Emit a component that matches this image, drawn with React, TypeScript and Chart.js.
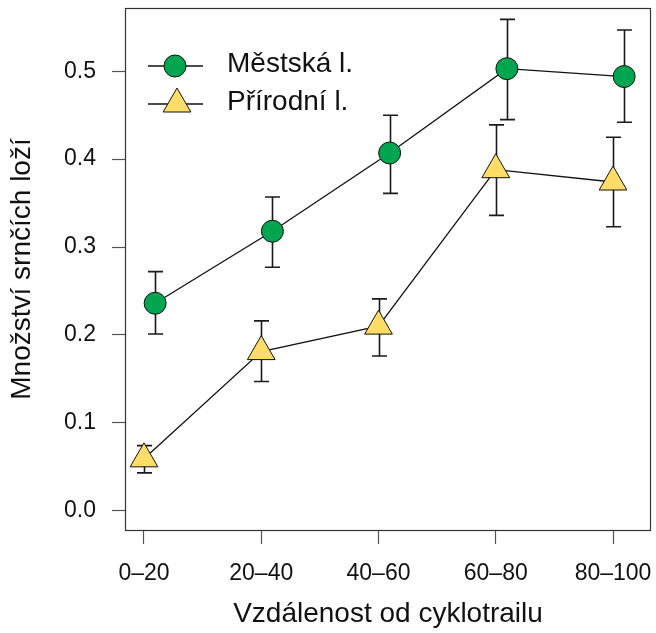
import React, { useEffect, useRef } from 'react';
import { Chart, registerables } from 'chart.js';

Chart.register(...registerables);

const categories = ['0–20', '20–40', '40–60', '60–80', '80–100'];
const yTickValues = [0, 0.1, 0.2, 0.3, 0.4, 0.5];

const seriesNames = ['Městská l.', 'Přírodní l.'];

const mestska = [0.236, 0.318, 0.407, 0.503, 0.494];
const mestskaLow = [0.201, 0.277, 0.361, 0.445, 0.442];
const mestskaHigh = [0.272, 0.357, 0.45, 0.559, 0.547];

const prirodni = [0.059, 0.181, 0.21, 0.388, 0.374];
const prirodniLow = [0.043, 0.147, 0.176, 0.336, 0.323];
const prirodniHigh = [0.074, 0.216, 0.241, 0.439, 0.425];

const FONT = "'Liberation Sans', Arial, Helvetica, sans-serif";
const GREEN = '#00A64F';
const YELLOW = '#FFDD66';
const TEXT = '#111111';

export default function App() {
  const ref = useRef<HTMLCanvasElement | null>(null);

  useEffect(() => {
    document.body.style.margin = '0';
    const canvas = ref.current;
    if (!canvas) return;

    const errorBars = {
      id: 'errorBars',
      beforeDatasetsDraw(chart: any) {
        const { ctx } = chart;
        const xs = chart.scales.x;
        const ys = chart.scales.y;
        ctx.save();
        ctx.strokeStyle = '#1a1a1a';
        ctx.lineWidth = 1.6;
        chart.data.datasets.forEach((ds: any) => {
          ds.data.forEach((p: any, i: number) => {
            const x = Math.round(xs.getPixelForValue(p.x)) + 0.5;
            const y1 = ys.getPixelForValue(ds.errLow[i]);
            const y2 = ys.getPixelForValue(ds.errHigh[i]);
            ctx.beginPath();
            ctx.moveTo(x, y1);
            ctx.lineTo(x, y2);
            ctx.moveTo(x - 7.5, y1);
            ctx.lineTo(x + 7.5, y1);
            ctx.moveTo(x - 7.5, y2);
            ctx.lineTo(x + 7.5, y2);
            ctx.stroke();
          });
        });
        ctx.restore();
      },
    };

    const boxAndLegend = {
      id: 'boxAndLegend',
      afterDraw(chart: any) {
        const { ctx, chartArea } = chart;
        ctx.save();
        ctx.strokeStyle = '#333333';
        ctx.lineWidth = 1.2;
        ctx.strokeRect(
          chartArea.left + 0.5,
          chartArea.top + 0.5,
          chartArea.right - chartArea.left - 1,
          chartArea.bottom - chartArea.top
        );

        // legend
        const lx0 = 148;
        const lx1 = 203;
        const mx = 175;
        const rows = [66, 104];
        ctx.strokeStyle = '#111111';
        ctx.lineWidth = 1.3;
        rows.forEach((y) => {
          ctx.beginPath();
          ctx.moveTo(lx0, y);
          ctx.lineTo(lx1, y);
          ctx.stroke();
        });
        // circle
        ctx.beginPath();
        ctx.arc(mx, rows[0], 11, 0, Math.PI * 2);
        ctx.fillStyle = GREEN;
        ctx.fill();
        ctx.lineWidth = 1;
        ctx.stroke();
        // triangle
        const r = 16;
        const ty = rows[1];
        ctx.beginPath();
        for (let k = 0; k < 3; k++) {
          const a = (k * 2 * Math.PI) / 3;
          const px = mx + 2 + Math.sin(a) * r;
          const py = ty - Math.cos(a) * r;
          if (k === 0) ctx.moveTo(px, py);
          else ctx.lineTo(px, py);
        }
        ctx.closePath();
        ctx.fillStyle = YELLOW;
        ctx.fill();
        ctx.stroke();

        ctx.fillStyle = TEXT;
        ctx.font = `28px ${FONT}`;
        ctx.textBaseline = 'middle';
        ctx.textAlign = 'left';
        ctx.fillText(seriesNames[0], 227, 64);
        ctx.fillText(seriesNames[1], 227, 102);
        ctx.restore();
      },
    };

    const chart = new Chart(canvas, {
      type: 'line',
      data: {
        datasets: [
          {
            label: seriesNames[1],
            data: prirodni.map((v, i) => ({ x: i + 1, y: v })),
            errLow: prirodniLow,
            errHigh: prirodniHigh,
            borderColor: '#111111',
            borderWidth: 1.3,
            backgroundColor: YELLOW,
            pointStyle: 'triangle',
            pointRadius: 16,
            pointBorderWidth: 1,
            pointBorderColor: '#111111',
            pointBackgroundColor: YELLOW,
            tension: 0,
            clip: false,
          } as any,
          {
            label: seriesNames[0],
            data: mestska.map((v, i) => ({ x: i + 1.095, y: v })),
            errLow: mestskaLow,
            errHigh: mestskaHigh,
            borderColor: '#111111',
            borderWidth: 1.3,
            backgroundColor: GREEN,
            pointStyle: 'circle',
            pointRadius: 11,
            pointBorderWidth: 1,
            pointBorderColor: '#111111',
            pointBackgroundColor: GREEN,
            tension: 0,
            clip: false,
          } as any,
        ],
      },
      options: {
        responsive: false,
        animation: false,
        devicePixelRatio: 1,
        layout: { autoPadding: false, padding: { top: 8, right: 5, left: 0, bottom: 0 } },
        plugins: {
          legend: { display: false },
          tooltip: { enabled: false },
        },
        scales: {
          x: {
            type: 'linear',
            min: 0.838,
            max: 5.324,
            afterBuildTicks: (scale: any) => {
              scale.ticks = categories.map((_, i) => ({ value: i + 1 }));
            },
            afterFit: (scale: any) => {
              scale.height = 103;
              scale.paddingLeft = 0;
              scale.paddingRight = 0;
              scale.paddingTop = 0;
              scale.paddingBottom = 0;
            },
            ticks: {
              autoSkip: false,
              maxRotation: 0,
              padding: 16,
              color: TEXT,
              font: { family: FONT, size: 23 },
              callback: (v: any) => categories[Math.round(Number(v)) - 1] ?? '',
            },
            grid: {
              display: true,
              drawOnChartArea: false,
              drawTicks: true,
              tickLength: 14,
              tickColor: '#555555',
              tickWidth: 1.2,
            },
            border: { display: false },
            title: {
              display: true,
              text: 'Vzdálenost od cyklotrailu',
              color: TEXT,
              font: { family: FONT, size: 28, lineHeight: 1.2 },
              padding: { top: 0, bottom: 2 },
            },
          },
          y: {
            type: 'linear',
            min: -0.022,
            max: 0.572,
            afterBuildTicks: (scale: any) => {
              scale.ticks = yTickValues.map((v) => ({ value: v }));
            },
            afterFit: (scale: any) => {
              scale.width = 125;
              scale.paddingLeft = 0;
              scale.paddingRight = 0;
              scale.paddingTop = 0;
              scale.paddingBottom = 0;
            },
            ticks: {
              autoSkip: false,
              padding: 16,
              color: TEXT,
              font: { family: FONT, size: 23 },
              callback: (v: any) => Number(v).toFixed(1),
            },
            grid: {
              display: true,
              drawOnChartArea: false,
              drawTicks: true,
              tickLength: 13,
              tickColor: '#555555',
              tickWidth: 1.2,
            },
            border: { display: false },
            title: {
              display: true,
              text: 'Množství srnčích loží',
              color: TEXT,
              font: { family: FONT, size: 28, lineHeight: 1.2 },
              padding: { top: 5, bottom: 0 },
            },
          },
        },
      },
      plugins: [errorBars, boxAndLegend],
    } as any);

    return () => chart.destroy();
  }, []);

  return (
    <div style={{ width: 656, height: 633 }}>
      <canvas ref={ref} width={656} height={633} style={{ display: 'block' }} />
    </div>
  );
}
